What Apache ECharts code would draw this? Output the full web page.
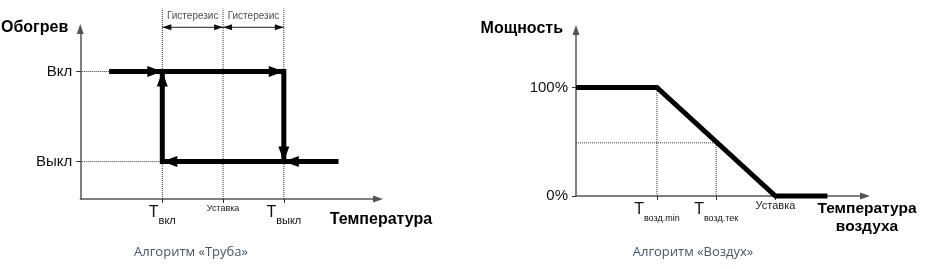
<!DOCTYPE html>
<html><head><meta charset="utf-8">
<script src="https://cdn.jsdelivr.net/npm/echarts@6/dist/echarts.min.js"></script>
<style>html,body{margin:0;padding:0;background:#fff}#c{width:925px;height:269px}</style>
</head><body><div id="c"></div>
<script>
// ---- Left chart: «Труба» (hysteresis) ----
const heatStates = ['Выкл', 'Вкл'];
const heatLevels = [22, 75];              // y positions of Выкл / Вкл
const pipeTicks = [27, 47, 67];           // Tвкл, Уставка, Tвыкл
const pipeTickNames = ['Т|вкл', 'Уставка', 'Т|выкл'];
const approachStart = 9.5;                // where the heating-on approach line begins
const approachEnd = 85;                   // where the cooling approach line begins
const guideTop = 112;
const hystLevel = 101;
const hystLabel = 'Гистерезис';

// ---- Right chart: «Воздух» (power vs air temperature) ----
const powerX = [0, 28, 69, 87];
const powerY = [100, 100, 0, 0];
const airTicks = [28, 48.5, 69];          // Tвозд.min, Tвозд.тек, Уставка
const airTickNames = ['Т|возд.min', 'Т|возд.тек', 'Уставка'];
const powerTicks = [0, 100];
const powerTickNames = ['0%', '100%'];
const currentPower = 49;

const FONT = '"Liberation Sans", Arial, sans-serif';
const AX = '#555';

function tickFmt(vals, names) {
  return function (v) {
    const i = vals.findIndex(t => Math.abs(t - v) < 1e-6);
    if (i < 0) return '';
    const n = names[i];
    if (n.indexOf('|') >= 0) {
      const p = n.split('|');
      return '{t|' + p[0] + '}{s|' + p[1] + '}';
    }
    return '{u|' + n + '}';
  };
}

function axisX(idx, max, ticks, names, name, nameStyle, nameGap, subSize, uSize) {
  return {
    type: 'value', gridIndex: idx, min: 0, max: max,
    axisLine: { show: true, lineStyle: { color: AX, width: 1.5 }, symbol: ['none', 'triangle'], symbolSize: [7, 10] },
    axisTick: { show: true, length: 4, lineStyle: { color: '#333' }, customValues: ticks },
    axisLabel: {
      show: true, margin: 4, customValues: ticks, formatter: tickFmt(ticks, names),
      rich: {
        t: { fontFamily: FONT, fontSize: 16, color: '#111', lineHeight: 18, verticalAlign: 'bottom' },
        s: { fontFamily: FONT, fontSize: subSize, color: '#111', lineHeight: 18, verticalAlign: 'bottom', padding: [0, 0, -5, 0] },
        u: { fontFamily: FONT, fontSize: uSize, color: '#222', lineHeight: 12 }
      }
    },
    splitLine: { show: false },
    name: name, nameLocation: 'end', nameGap: nameGap, nameTextStyle: nameStyle
  };
}

function axisY(idx, max, ticks, names, name, padRight) {
  return {
    type: 'value', gridIndex: idx, min: 0, max: max,
    axisLine: { show: true, lineStyle: { color: AX, width: 1.5 }, symbol: ['none', 'triangle'], symbolSize: [7, 10] },
    axisTick: { show: true, length: 4, lineStyle: { color: '#333' }, customValues: ticks },
    axisLabel: {
      show: true, margin: 8, customValues: ticks,
      formatter: function (v) { const i = ticks.findIndex(t => Math.abs(t - v) < 1e-6); return i < 0 ? '' : names[i]; },
      fontFamily: FONT, fontSize: 15, color: '#111'
    },
    splitLine: { show: false },
    name: name, nameLocation: 'end', nameGap: 1,
    nameTextStyle: { fontFamily: FONT, fontSize: 16, fontWeight: 'bold', color: '#000', align: 'right', verticalAlign: 'middle', padding: [0, padRight, 0, 0] }
  };
}

function guide(xi, pts) {
  return {
    type: 'line', xAxisIndex: xi, yAxisIndex: xi, data: pts, symbol: 'none', silent: true, clip: false,
    lineStyle: { color: '#333', width: 1, type: [1, 1] }, z: 1
  };
}

function polyline(xi, pts, width, color) {
  return {
    type: 'line', xAxisIndex: xi, yAxisIndex: xi, data: pts, symbol: 'none', silent: true, clip: false,
    lineStyle: { color: color, width: width, join: 'miter', cap: 'butt' }, z: 3
  };
}

// arrow head pointing along segment a->b with its tip exactly on b
function head(a, b, w, len) {
  const dx = b[0] - a[0], dy = b[1] - a[1];
  let rot, off;
  if (Math.abs(dx) >= Math.abs(dy)) {
    if (dx > 0) { rot = -90; off = [-len / 2, 0]; } else { rot = 90; off = [len / 2, 0]; }
  } else {
    if (dy > 0) { rot = 0; off = [0, len / 2]; } else { rot = 180; off = [0, -len / 2]; }
  }
  return { value: b, symbolRotate: rot, symbolOffset: off, symbolSize: [w, len] };
}

function heads(xi, items, color) {
  return {
    type: 'scatter', xAxisIndex: xi, yAxisIndex: xi, symbol: 'triangle',
    silent: true, clip: false, z: 4, itemStyle: { color: color, opacity: 1 }, data: items
  };
}

const [tOn, tSet, tOff] = pipeTicks;
const [yOff, yOn] = heatLevels;

const pOnA = [approachStart, yOn], pOnOn = [tOn, yOn], pOffOn = [tOff, yOn];
const pOffOff = [tOff, yOff], pOnOff = [tOn, yOff], pEnd = [approachEnd, yOff];
const hA = [tOn, hystLevel], hM = [tSet, hystLevel], hB = [tOff, hystLevel];

const BW = 11, BL = 15, SW = 6, SL = 9;

const series = [
  guide(0, [[0, yOn], pOnA]),
  guide(0, [[0, yOff], pOnOff]),
  guide(0, [[tOn, 0], [tOn, guideTop]]),
  guide(0, [[tSet, 0], [tSet, guideTop]]),
  guide(0, [[tOff, 0], [tOff, guideTop]]),
  polyline(0, [pOnA, pOffOn, pOffOff], 5, '#000'),
  polyline(0, [pEnd, pOnOff, pOnOn], 5, '#000'),
  heads(0, [
    head(pOnA, pOnOn, BW, BL), head(pOnOn, pOffOn, BW, BL), head(pOffOn, pOffOff, BW, BL),
    head(pEnd, pOffOff, BW, BL), head(pOffOff, pOnOff, BW, BL), head(pOnOff, pOnOn, BW, BL)
  ], '#000'),
  polyline(0, [hA, hM], 1, '#222'),
  polyline(0, [hM, hB], 1, '#222'),
  heads(0, [head(hM, hA, SW, SL), head(hA, hM, SW, SL), head(hB, hM, SW, SL), head(hM, hB, SW, SL)], '#111'),
  {
    type: 'scatter', xAxisIndex: 0, yAxisIndex: 0, symbolSize: 0, silent: true, clip: false,
    data: [[(tOn + tSet) / 2, hystLevel], [(tSet + tOff) / 2, hystLevel]],
    label: { show: true, position: 'top', distance: 6, formatter: hystLabel, fontFamily: FONT, fontSize: 10, color: '#222' }
  },
  guide(1, [[0, currentPower], [airTicks[1], currentPower]]),
  guide(1, [[airTicks[0], 0], [airTicks[0], powerY[1]]]),
  guide(1, [[airTicks[1], 0], [airTicks[1], currentPower]]),
  polyline(1, powerX.map((x, i) => [x, powerY[i]]), 5, '#000')
];

const chart = echarts.init(document.getElementById('c'), null, { renderer: 'canvas' });
chart.setOption({
  animation: false,
  backgroundColor: '#fff',
  title: [
    { text: 'Алгоритм «Труба»', left: 186, top: 241, textAlign: 'center',
      textStyle: { fontFamily: '"Open Sans", sans-serif', fontSize: 13, fontWeight: 'normal', color: '#46546c' } },
    { text: 'Алгоритм «Воздух»', left: 688, top: 241, textAlign: 'center',
      textStyle: { fontFamily: '"Open Sans", sans-serif', fontSize: 13, fontWeight: 'normal', color: '#46546c' } }
  ],
  grid: [
    { left: 79, top: 29, width: 299, height: 170 },
    { left: 576, top: 30, width: 289, height: 166 }
  ],
  xAxis: [
    axisX(0, 98, pipeTicks, pipeTickNames, 'Температура',
      { fontFamily: FONT, fontSize: 16, fontWeight: 'bold', color: '#000', align: 'center', verticalAlign: 'top', padding: [13, 0, 0, 0] }, 3, 11, 9),
    axisX(1, 100, airTicks, airTickNames, 'Температура\nвоздуха',
      { fontFamily: FONT, fontSize: 15.5, fontWeight: 'bold', color: '#000', align: 'center', verticalAlign: 'top', lineHeight: 18, padding: [4, 0, 0, 0] }, 2, 9, 11)
  ],
  yAxis: [
    axisY(0, 100, heatLevels, heatStates, 'Обогрев', 12),
    axisY(1, 153, powerTicks, powerTickNames, 'Мощность', 13)
  ],
  series: series
});
</script>
</body></html>
